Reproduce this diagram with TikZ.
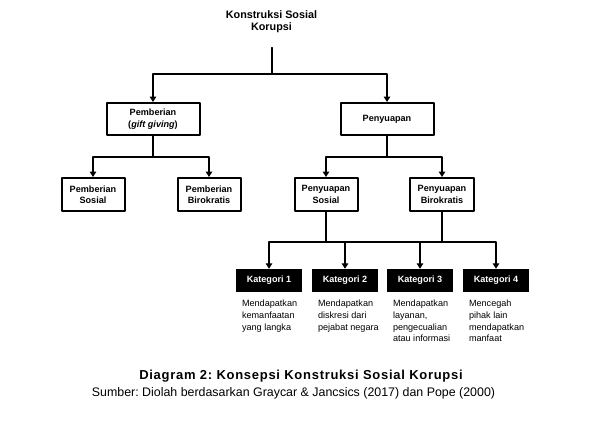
\documentclass[tikz,border=0pt]{standalone}
\usepackage{fontspec}
\setmainfont{Liberation Sans}
\newfontfamily\capfont[LetterSpace=5.5]{Liberation Sans}
\frenchspacing
\usetikzlibrary{arrows.meta}

\begin{document}
\begin{tikzpicture}[line cap=round,line join=round,>={Triangle[length=5.5pt,width=6.5pt]},x=1pt,y=-1pt,
  box/.style={draw,line width=2pt,inner sep=0pt,align=center,font=\fontsize{9.1}{11.5}\selectfont\bfseries},
  katbox/.style={fill=black,text=white,inner sep=0pt,minimum width=66pt,minimum height=23pt,font=\fontsize{9.1}{11.5}\selectfont\bfseries},
  note/.style={anchor=north west,inner sep=0pt,align=left,font=\fontsize{9.1}{11.7}\selectfont},
  conn/.style={line width=2pt}]
            \useasboundingbox (0,0) rectangle (589,429);
            % judul
            \node[inner sep=0pt,align=center,font=\fontsize{10.8}{11.8}\selectfont\bfseries] (root) at (271.5,21.5) {Konstruksi Sosial\\Korupsi};
            \coordinate (rootstem) at (272,48);
            % tingkat 1
            \node[box,minimum width=93pt,minimum height=32pt] (pemb) at (153,119) {Pemberian\\(\textit{gift giving})};
            \node[box,minimum width=93pt,minimum height=32pt] (peny) at (387,119) {Penyuapan};
            % tingkat 2
            \node[box,minimum width=63pt,minimum height=33pt] (pemsos) at (93,194.5) {Pemberian\\Sosial};
            \node[box,minimum width=63pt,minimum height=33pt] (pembir) at (209,194.5) {Pemberian\\Birokratis};
            \node[box,minimum width=63pt,minimum height=33pt] (penysos) at (326,194.5) {Penyuapan\\Sosial};
            \node[box,minimum width=64pt,minimum height=33pt] (penybir) at (442,194.5) {Penyuapan\\Birokratis};
            % kategori
            \node[katbox] (kat1) at (269,280.5) {Kategori 1};
            \node[katbox] (kat2) at (345,280.5) {Kategori 2};
            \node[katbox] (kat3) at (420,280.5) {Kategori 3};
            \node[katbox] (kat4) at (496,280.5) {Kategori 4};
            \node[note] (ket1) at ([xshift=6pt]kat1.west |- 0,300) {Mendapatkan\\kemanfaatan\\yang langka};
            \node[note] (ket2) at ([xshift=6pt]kat2.west |- 0,300) {Mendapatkan\\diskresi dari\\pejabat negara};
            \node[note] (ket3) at ([xshift=6pt]kat3.west |- 0,300) {Mendapatkan\\layanan,\\pengecualian\\atau informasi};
            \node[note] (ket4) at ([xshift=6pt]kat4.west |- 0,300) {Mencegah\\pihak lain\\mendapatkan\\manfaat};
            % garis
            \draw [conn] (rootstem)-- ++(0,26);
            \draw [conn,->] (rootstem)-- ++(0,26) -| (pemb.north);
            \draw [conn,->] (rootstem)-- ++(0,26) -| (peny.north);
            \draw [conn,->] (pemb.south)-- ++(0,21) -| (pemsos.north);
            \draw [conn,->] (pemb.south)-- ++(0,21) -| (pembir.north);
            \draw [conn,->] (peny.south)-- ++(0,21) -| (penysos.north);
            \draw [conn,->] (peny.south)-- ++(0,21) -| (penybir.north);
            \draw [conn] (penybir.south)-- ++(0,30);
            \foreach \k in {1,...,4}
              \draw [conn,->] (penysos.south)-- ++(0,30) -| (kat\k.north);
            % keterangan
            \node[inner sep=0pt,anchor=base,font=\capfont\fontsize{13}{15}\selectfont\bfseries] (judul) at (301,379) {Diagram 2: Konsepsi Konstruksi Sosial Korupsi};
            \node[inner sep=0pt,anchor=base,font=\fontsize{12.4}{14}\selectfont] (sumber) at (293.5,396) {Sumber: Diolah berdasarkan Graycar \& Jancsics (2017) dan Pope (2000)};
\end{tikzpicture}
\end{document}
